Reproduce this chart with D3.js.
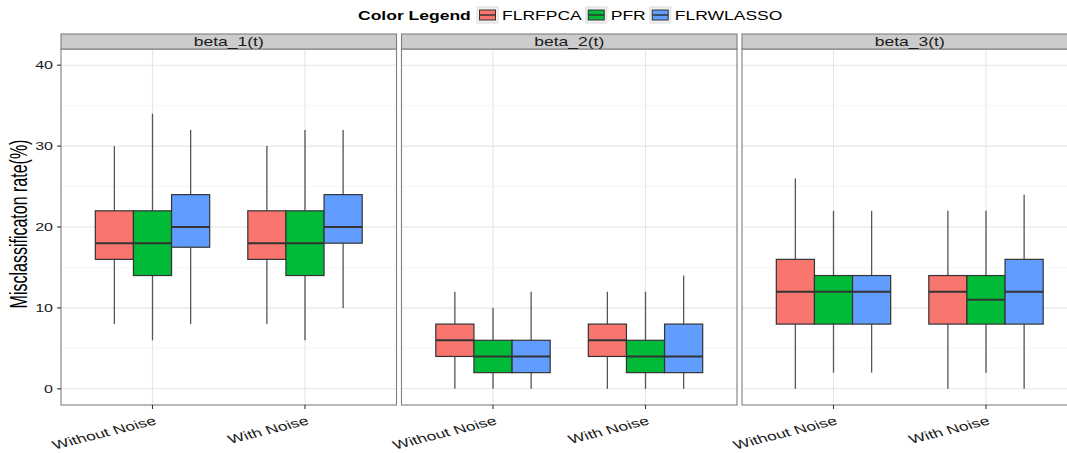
<!DOCTYPE html>
<html>
<head>
<meta charset="utf-8">
<script src="https://cdn.jsdelivr.net/npm/d3@7"></script>
<style>
  body { margin: 0; background: #fff; }
  svg { display: block; font-family: "Liberation Sans", Arial, sans-serif; }
</style>
</head>
<body>
<svg id="chart" width="1067" height="453"></svg>
<script>
// facets, x categories and groups
var panels = ["beta_1(t)", "beta_2(t)", "beta_3(t)"];
var conditions = ["Without Noise", "With Noise"];
var methods = ["FLRFPCA", "PFR", "FLRWLASSO"];
var colors = ["#F8766D", "#00BA38", "#619CFF"];
var yTicks = [0, 10, 20, 30, 40];

// box stats per method: [low, q1, median, q3, high], one entry per panel x condition
var flrfpca = [
  [[8, 16, 18, 22, 30], [8, 16, 18, 22, 30]],
  [[0, 4, 6, 8, 12], [0, 4, 6, 8, 12]],
  [[0, 8, 12, 16, 26], [0, 8, 12, 14, 22]]
];
var pfr = [
  [[6, 14, 18, 22, 34], [6, 14, 18, 22, 32]],
  [[0, 2, 4, 6, 10], [0, 2, 4, 6, 12]],
  [[2, 8, 12, 14, 22], [2, 8, 11, 14, 22]]
];
var flrwlasso = [
  [[8, 17.5, 20, 24, 32], [10, 18, 20, 24, 32]],
  [[0, 2, 4, 6, 12], [0, 2, 4, 8, 14]],
  [[2, 8, 12, 14, 22], [0, 8, 12, 16, 24]]
];
var seriesStats = [flrfpca, pfr, flrwlasso];

var svg = d3.select("#chart");
var panelW = 335.5, panelGap = 5, left0 = 61;
var stripTop = 34, panelTop = 49, panelBottom = 405;
var sx = 1.46; // the picture is stretched sideways, so text is too

// text drawn stretched horizontally in screen space
function stext(parent, tx, ty, rot, str, size, anchor) {
  return parent.append("text")
    .attr("transform", "translate(" + tx + "," + ty + ") scale(" + sx + ",1) rotate(" + rot + ")")
    .attr("text-anchor", anchor).attr("font-size", size).attr("fill", "#1a1a1a").text(str);
}

var y = d3.scaleLinear().domain([-2, 42]).range([panelBottom, panelTop]);
var x = d3.scalePoint().domain(conditions).range([0, panelW]).padding(0.6);
var dodge = d3.scaleBand().domain(methods)
  .range([-0.375 * x.step(), 0.375 * x.step()]);

panels.forEach(function(title, p) {
  var g = svg.append("g").attr("transform", "translate(" + (left0 + p * (panelW + panelGap)) + ",0)");

  g.append("rect").attr("x", 0).attr("y", panelTop).attr("width", panelW)
    .attr("height", panelBottom - panelTop).attr("fill", "#fff");

  // minor grid
  [5, 15, 25, 35].forEach(function(v) {
    g.append("line").attr("x1", 0).attr("x2", panelW).attr("y1", y(v)).attr("y2", y(v))
      .attr("stroke", "#f6f6f6").attr("stroke-width", 1);
  });
  yTicks.forEach(function(v) {
    g.append("line").attr("x1", 0).attr("x2", panelW).attr("y1", y(v)).attr("y2", y(v))
      .attr("stroke", "#e6e6e6").attr("stroke-width", 1.1);
  });
  conditions.forEach(function(c) {
    g.append("line").attr("x1", x(c)).attr("x2", x(c)).attr("y1", panelTop).attr("y2", panelBottom)
      .attr("stroke", "#e6e6e6").attr("stroke-width", 1.1);
  });

  // boxes
  methods.forEach(function(m, k) {
    conditions.forEach(function(c, ci) {
      var s = seriesStats[k][p][ci];
      var cx = x(c) + dodge(m) + dodge.bandwidth() / 2;
      var bw = dodge.bandwidth();
      g.append("line").attr("x1", cx).attr("x2", cx).attr("y1", y(s[3])).attr("y2", y(s[4]))
        .attr("stroke", "#555").attr("stroke-width", 1.3);
      g.append("line").attr("x1", cx).attr("x2", cx).attr("y1", y(s[1])).attr("y2", y(s[0]))
        .attr("stroke", "#555").attr("stroke-width", 1.3);
      g.append("rect").attr("x", cx - bw / 2).attr("y", y(s[3])).attr("width", bw)
        .attr("height", y(s[1]) - y(s[3])).attr("fill", colors[k])
        .attr("stroke", "#333").attr("stroke-width", 1.2);
      g.append("line").attr("x1", cx - bw / 2).attr("x2", cx + bw / 2).attr("y1", y(s[2])).attr("y2", y(s[2]))
        .attr("stroke", "#333").attr("stroke-width", 2);
    });
  });

  // panel border
  g.append("rect").attr("x", 0).attr("y", panelTop).attr("width", panelW)
    .attr("height", panelBottom - panelTop).attr("fill", "none")
    .attr("stroke", "#7f7f7f").attr("stroke-width", 1.1);

  // strip
  g.append("rect").attr("x", 0).attr("y", stripTop).attr("width", panelW)
    .attr("height", panelTop - stripTop).attr("fill", "#cccccc")
    .attr("stroke", "#7f7f7f").attr("stroke-width", 1.1);
  stext(g, panelW / 2, stripTop + 11.5, 0, title, 12, "middle");

  // x axis ticks and labels
  conditions.forEach(function(c) {
    g.append("line").attr("x1", x(c)).attr("x2", x(c)).attr("y1", panelBottom).attr("y2", panelBottom + 4)
      .attr("stroke", "#333").attr("stroke-width", 1.1);
    stext(g, x(c) + 5, panelBottom + 19, -20, c, 12, "end");
  });
});

// y axis
var ya = svg.append("g").attr("transform", "translate(" + left0 + ",0)");
yTicks.forEach(function(v) {
  ya.append("line").attr("x1", -4).attr("x2", 0).attr("y1", y(v)).attr("y2", y(v))
    .attr("stroke", "#333").attr("stroke-width", 1.1);
  stext(ya, -8, y(v) + 4, 0, v, 11, "end");
});
stext(svg, 27, (panelTop + panelBottom) / 2 - 3, -90, "Misclassificaton rate(%)", 16, "middle")
  .attr("fill", "#000");

// legend
var lg = svg.append("g").attr("transform", "translate(358,15)");
stext(lg, 0, 4.5, 0, "Color Legend", 12, "start").attr("font-weight", "bold").attr("fill", "#000");
var lx = 119;
methods.forEach(function(m, k) {
  var key = lg.append("g").attr("transform", "translate(" + lx + ",0)");
  key.append("rect").attr("x", 0).attr("y", -8).attr("width", 21).attr("height", 16)
    .attr("fill", "#f2f2f2").attr("stroke", "#dcdcdc");
  key.append("rect").attr("x", 2.5).attr("y", -5).attr("width", 16).attr("height", 10)
    .attr("fill", colors[k]).attr("stroke", "#333").attr("stroke-width", 1);
  key.append("line").attr("x1", 2.5).attr("x2", 18.5).attr("y1", 0).attr("y2", 0)
    .attr("stroke", "#333").attr("stroke-width", 1.5);
  var t = stext(key, 25, 4.5, 0, m, 12, "start").attr("fill", "#000");
  lx += 25 + t.node().getComputedTextLength() * sx + 4;
});
</script>
</body>
</html>
